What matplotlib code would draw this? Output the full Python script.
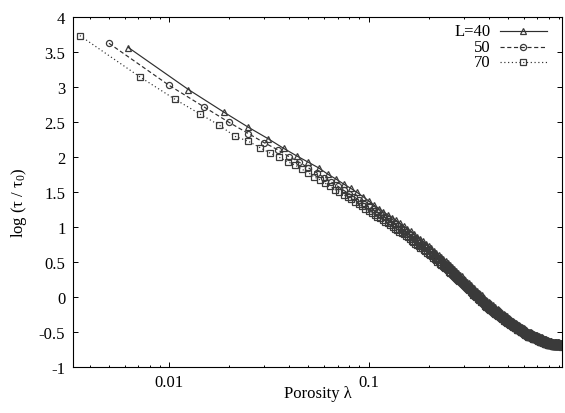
import numpy as np
import matplotlib
matplotlib.use("Agg")
import matplotlib.pyplot as plt
from matplotlib.lines import Line2D
from matplotlib.ticker import LogLocator, NullFormatter

# Lattice sizes; porosity is sampled in steps of 1/(4L)
sizes = [40, 50, 70]
legend_labels = ["L=40", "50", "70"]

log_tau_L40 = [
    3.56, 2.96, 2.64, 2.42, 2.26, 2.12, 2.01, 1.92, 1.84, 1.75,
    1.68, 1.61, 1.55, 1.49, 1.43, 1.37, 1.31, 1.26, 1.21, 1.17,
    1.13, 1.09, 1.05, 1.01, 0.97, 0.94, 0.90, 0.86, 0.83, 0.79,
    0.76, 0.73, 0.69, 0.66, 0.63, 0.60, 0.57, 0.54, 0.51, 0.48,
    0.45, 0.42, 0.39, 0.37, 0.34, 0.31, 0.29, 0.26, 0.24, 0.21,
    0.19, 0.17, 0.14, 0.12, 0.10, 0.08, 0.06, 0.04, 0.02, 0.00,
    -0.02, -0.04, -0.06, -0.08, -0.09, -0.11, -0.12, -0.14, -0.15, -0.17,
    -0.18, -0.19, -0.21, -0.22, -0.23, -0.25, -0.26, -0.27, -0.28, -0.30,
    -0.31, -0.32, -0.33, -0.34, -0.35, -0.36, -0.37, -0.38, -0.39, -0.40,
    -0.41, -0.42, -0.43, -0.43, -0.44, -0.45, -0.46, -0.47, -0.48, -0.49,
    -0.50, -0.50, -0.51, -0.51, -0.52, -0.52, -0.53, -0.53, -0.54, -0.54,
    -0.55, -0.55, -0.56, -0.56, -0.57, -0.57, -0.58, -0.58, -0.59, -0.59,
    -0.60, -0.60, -0.61, -0.61, -0.62, -0.62, -0.62, -0.63, -0.63, -0.63,
    -0.63, -0.63, -0.64, -0.64, -0.64, -0.64, -0.64, -0.64, -0.65, -0.65,
    -0.65, -0.65, -0.65, -0.65, -0.66, -0.66, -0.66, -0.66,
]

log_tau_L50 = [
    3.62, 3.02, 2.71, 2.49, 2.33, 2.20, 2.10, 2.00, 1.92, 1.84,
    1.77, 1.70, 1.64, 1.58, 1.52, 1.47, 1.42, 1.38, 1.33, 1.29,
    1.25, 1.21, 1.17, 1.14, 1.11, 1.07, 1.04, 1.01, 0.98, 0.95,
    0.92, 0.89, 0.86, 0.83, 0.80, 0.77, 0.75, 0.72, 0.69, 0.67,
    0.64, 0.61, 0.59, 0.56, 0.54, 0.52, 0.49, 0.47, 0.45, 0.42,
    0.40, 0.38, 0.36, 0.34, 0.31, 0.29, 0.27, 0.25, 0.23, 0.21,
    0.19, 0.17, 0.15, 0.14, 0.12, 0.10, 0.08, 0.06, 0.05, 0.03,
    0.01, 0.00, -0.02, -0.03, -0.05, -0.07, -0.08, -0.10, -0.11, -0.12,
    -0.14, -0.15, -0.16, -0.17, -0.18, -0.19, -0.20, -0.22, -0.23, -0.24,
    -0.25, -0.26, -0.27, -0.28, -0.29, -0.30, -0.31, -0.32, -0.33, -0.34,
    -0.35, -0.35, -0.36, -0.37, -0.38, -0.39, -0.39, -0.40, -0.41, -0.42,
    -0.42, -0.43, -0.44, -0.45, -0.45, -0.46, -0.47, -0.48, -0.48, -0.49,
    -0.50, -0.50, -0.51, -0.52, -0.52, -0.53, -0.53, -0.54, -0.54, -0.55,
    -0.55, -0.55, -0.56, -0.56, -0.57, -0.57, -0.57, -0.58, -0.58, -0.59,
    -0.59, -0.59, -0.60, -0.60, -0.61, -0.61, -0.61, -0.62, -0.62, -0.62,
    -0.63, -0.63, -0.63, -0.64, -0.64, -0.65, -0.65, -0.65, -0.66, -0.66,
    -0.66, -0.66, -0.66, -0.66, -0.66, -0.66, -0.67, -0.67, -0.67, -0.67,
    -0.67, -0.67, -0.67, -0.67, -0.68, -0.68, -0.68, -0.68, -0.68, -0.68,
    -0.68, -0.68, -0.69, -0.69, -0.69, -0.69,
]

log_tau_L70 = [
    3.73, 3.14, 2.82, 2.61, 2.45, 2.29, 2.22, 2.13, 2.05, 1.99,
    1.93, 1.88, 1.82, 1.77, 1.71, 1.67, 1.62, 1.58, 1.53, 1.50,
    1.46, 1.42, 1.39, 1.35, 1.32, 1.29, 1.25, 1.23, 1.20, 1.17,
    1.14, 1.12, 1.09, 1.07, 1.05, 1.02, 1.00, 0.97, 0.95, 0.93,
    0.91, 0.89, 0.87, 0.85, 0.83, 0.80, 0.78, 0.76, 0.74, 0.72,
    0.70, 0.69, 0.67, 0.65, 0.63, 0.61, 0.59, 0.58, 0.56, 0.54,
    0.52, 0.50, 0.49, 0.47, 0.45, 0.44, 0.42, 0.41, 0.39, 0.38,
    0.36, 0.34, 0.33, 0.31, 0.30, 0.28, 0.27, 0.25, 0.24, 0.22,
    0.21, 0.19, 0.18, 0.17, 0.15, 0.14, 0.13, 0.11, 0.10, 0.09,
    0.07, 0.06, 0.05, 0.03, 0.02, 0.01, 0.00, -0.01, -0.03, -0.04,
    -0.05, -0.06, -0.07, -0.08, -0.09, -0.11, -0.12, -0.13, -0.14, -0.15,
    -0.16, -0.17, -0.18, -0.19, -0.19, -0.20, -0.21, -0.22, -0.23, -0.23,
    -0.24, -0.25, -0.26, -0.26, -0.27, -0.28, -0.29, -0.29, -0.30, -0.31,
    -0.32, -0.32, -0.33, -0.34, -0.34, -0.35, -0.36, -0.36, -0.37, -0.38,
    -0.38, -0.39, -0.39, -0.40, -0.41, -0.41, -0.42, -0.42, -0.43, -0.43,
    -0.44, -0.44, -0.45, -0.45, -0.46, -0.47, -0.47, -0.48, -0.48, -0.49,
    -0.49, -0.50, -0.50, -0.50, -0.51, -0.51, -0.52, -0.52, -0.53, -0.53,
    -0.54, -0.54, -0.55, -0.55, -0.56, -0.56, -0.57, -0.57, -0.57, -0.57,
    -0.58, -0.58, -0.58, -0.59, -0.59, -0.59, -0.59, -0.60, -0.60, -0.60,
    -0.61, -0.61, -0.61, -0.61, -0.62, -0.62, -0.62, -0.62, -0.63, -0.63,
    -0.63, -0.63, -0.64, -0.64, -0.64, -0.64, -0.65, -0.65, -0.65, -0.65,
    -0.66, -0.66, -0.66, -0.66, -0.67, -0.67, -0.67, -0.67, -0.68, -0.68,
    -0.68, -0.68, -0.69, -0.69, -0.69, -0.69, -0.69, -0.69, -0.69, -0.69,
    -0.69, -0.69, -0.69, -0.69, -0.70, -0.70, -0.70, -0.70, -0.70, -0.70,
    -0.70, -0.70, -0.70, -0.70, -0.70, -0.70, -0.71, -0.71, -0.71, -0.71,
    -0.71, -0.71, -0.71, -0.71, -0.71, -0.71, -0.71, -0.71, -0.71, -0.72,
]

series = [log_tau_L40, log_tau_L50, log_tau_L70]

plt.rcParams["font.family"] = ["Liberation Serif", "DejaVu Serif"]
plt.rcParams["mathtext.fontset"] = "custom"
plt.rcParams["mathtext.rm"] = "Liberation Serif"
plt.rcParams["mathtext.it"] = "Liberation Serif:italic"
plt.rcParams["axes.unicode_minus"] = False

W, H = 565, 414
fig = plt.figure(figsize=(W / 100, H / 100), dpi=100)
ax = fig.add_axes([73 / W, 1 - 367.7 / H, 489 / W, 350 / H])

line_color = "#2e2e2e"
mark_color = "#3a3a3a"
styles = [
    dict(ls="-", marker="^", ms=4.9),
    dict(ls=(0, (3.5, 2.2)), marker="o", ms=4.4),
    dict(ls=(0, (1.0, 2.2)), marker="s", ms=4.4),
]

for L, vals, st in zip(sizes, series, styles):
    y = np.asarray(vals, dtype=float)
    lam = np.arange(1, len(y) + 1) / (4.0 * L)
    ax.plot(lam, y, color=line_color, lw=0.85, ls=st["ls"],
            marker=st["marker"], ms=st["ms"], mfc="none",
            mec=mark_color, mew=0.9)

ax.set_xscale("log")
ax.set_xlim(0.0033, 0.933)
ax.set_ylim(-1, 4)

ax.set_xticks([0.01, 0.1], labels=["0.01", "0.1"])
ax.xaxis.set_minor_locator(LogLocator(base=10, subs=np.arange(2, 10)))
ax.xaxis.set_minor_formatter(NullFormatter())
yt = np.arange(-1, 4.01, 0.5)
ax.set_yticks(yt, labels=[f"{v:g}" for v in yt])

ax.tick_params(which="both", direction="in", top=True, right=True,
               labelsize=12, width=0.7)
ax.tick_params(which="major", length=3.3)
ax.tick_params(which="minor", length=1.7)
ax.tick_params(axis="x", pad=5)
ax.tick_params(axis="y", pad=5.5)
for sp in ax.spines.values():
    sp.set_linewidth(0.8)

fig.text(318 / W, 1 - 394 / H, "Porosity λ", ha="center", va="center", fontsize=12)
fig.text(19 / W, 1 - 203 / H, "log (τ / τ$_0$)", ha="center", va="center",
         rotation=90, fontsize=12)

# key in the upper right corner: label, line sample, marker
key_rows = [0.959, 0.913, 0.871]
for lab, st, yy in zip(legend_labels, styles, key_rows):
    ax.text(0.854, yy, lab, transform=ax.transAxes, ha="right", va="center",
            fontsize=12)
    ax.add_line(Line2D([0.873, 0.969], [yy, yy], transform=ax.transAxes,
                       color=line_color, lw=0.85, ls=st["ls"]))
    ax.add_line(Line2D([0.921], [yy], transform=ax.transAxes, ls="none",
                       marker=st["marker"], ms=st["ms"], mfc="none",
                       mec=mark_color, mew=0.9))

fig.savefig("out.png", dpi=100)
